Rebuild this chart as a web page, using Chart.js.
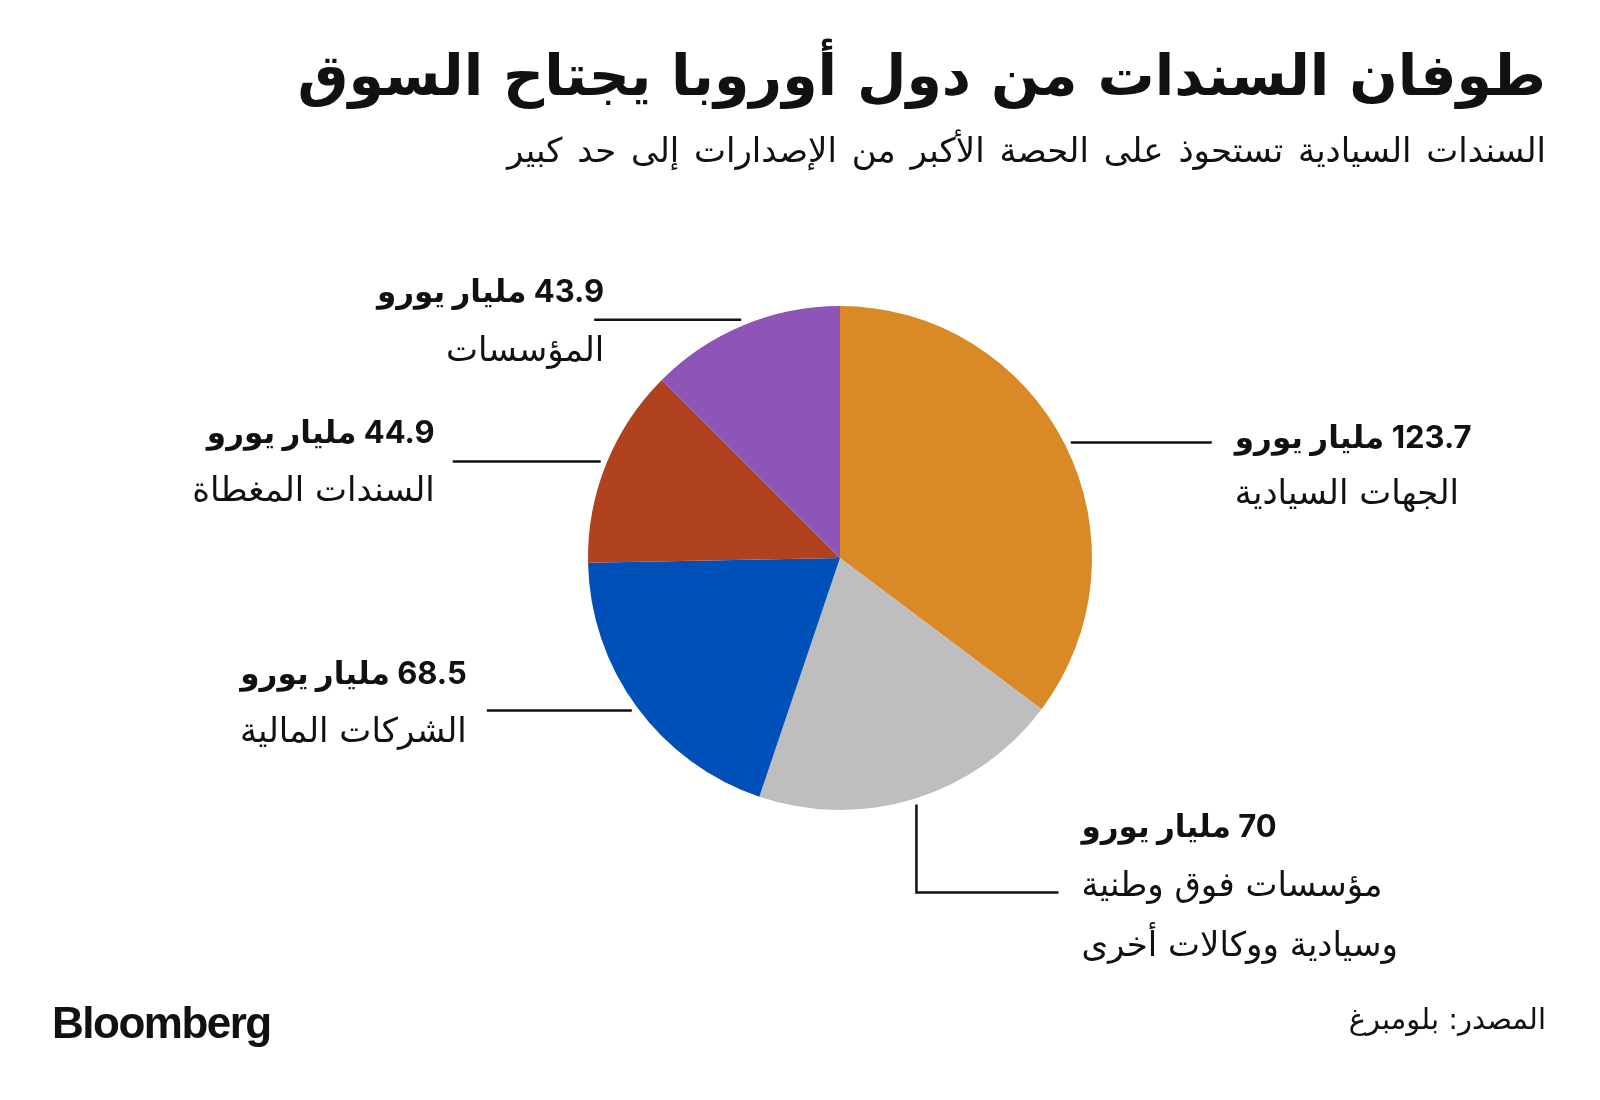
<!DOCTYPE html>
<html lang="ar">
<head>
<meta charset="utf-8">
<title>طوفان السندات من دول أوروبا يجتاح السوق</title>
<script src="https://cdn.jsdelivr.net/npm/chart.js@4/dist/chart.umd.min.js"></script>
<style>
  body { margin: 0; background: #fff; }
  #wrap { position: relative; width: 1600px; height: 1100px; overflow: hidden; background: #fff; }
  #myChart { position: absolute; left: 0; top: 0; }
  .txt { position: absolute; white-space: nowrap; color: #111; line-height: 1; }
  #title { right: 54px; top: 42px; font: bold 57px "DejaVu Sans", sans-serif; direction: rtl; }
  #subtitle { right: 54px; top: 130px; font: 34px "DejaVu Sans", sans-serif; word-spacing: 4px; direction: rtl; }
  #logo { left: 52px; top: 998px; font: bold 44px "Liberation Sans", Arial, sans-serif; letter-spacing: -1.5px; }
  #source { right: 54px; top: 1002px; font: 29px "DejaVu Sans", sans-serif; direction: rtl; }
</style>
</head>
<body>
<div id="wrap">
  <canvas id="myChart" width="1600" height="1100"></canvas>
  <div class="txt" id="title">طوفان السندات من دول أوروبا يجتاح السوق</div>
  <div class="txt" id="subtitle">السندات السيادية تستحوذ على الحصة الأكبر من الإصدارات إلى حد كبير</div>
  <div class="txt" id="logo">Bloomberg</div>
  <div class="txt" id="source">المصدر: بلومبرغ</div>
</div>
<script>
// data, clockwise from 12 o'clock
const categories = ['الجهات السيادية', 'مؤسسات فوق وطنية وسيادية ووكالات أخرى', 'الشركات المالية', 'السندات المغطاة', 'المؤسسات'];
const categoryLines = [
    ['الجهات السيادية'],
    ['مؤسسات فوق وطنية', 'وسيادية ووكالات أخرى'],
    ['الشركات المالية'],
    ['السندات المغطاة'],
    ['المؤسسات']
];
const values = [123.7, 70, 68.5, 44.9, 43.9];
const unit = 'مليار يورو';
const colors = ['#D98A26', '#BEBEBE', '#0050BA', '#B0421F', '#8E54B8'];

// leader line path (relative steps from the slice edge) and text offsets from line end
const leaderLayout = [
    { path: [[141, 0]], align: 'left', tx: 23, dy: [-4, 53] },
    { path: [[0, 88], [142, 0]], align: 'left', tx: 23, dy: [-65, -5, 55] },
    { path: [[-145, 0]], align: 'right', tx: -20, dy: [-36, 23] },
    { path: [[-148, 0]], align: 'right', tx: -18, dy: [-28, 31] },
    { path: [[-147, 0]], align: 'right', tx: 10, dy: [-27, 33] }
];

const sliceLabels = {
    id: 'sliceLabels',
    afterDatasetsDraw(chart) {
        const ctx = chart.ctx;
        const arcs = chart.getDatasetMeta(0).data;
        arcs.forEach((arc, i) => {
            const p = arc.getProps(['x', 'y', 'startAngle', 'endAngle', 'outerRadius']);
            const mid = (p.startAngle + p.endAngle) / 2;
            let x = p.x + Math.cos(mid) * (p.outerRadius + 6);
            let y = p.y + Math.sin(mid) * (p.outerRadius + 6);
            const lay = leaderLayout[i];

            ctx.save();
            ctx.strokeStyle = '#111';
            ctx.lineWidth = 2.5;
            ctx.beginPath();
            ctx.moveTo(x, y);
            lay.path.forEach(([dx, dy]) => {
                x += dx;
                y += dy;
                ctx.lineTo(x, y);
            });
            ctx.stroke();

            const lines = [values[i] + ' ' + unit].concat(categoryLines[i]);
            ctx.fillStyle = '#111';
            ctx.direction = 'rtl';
            ctx.textAlign = lay.align;
            ctx.textBaseline = 'middle';
            lines.forEach((t, k) => {
                ctx.font = k === 0 ? 'bold 31px Inter, "DejaVu Sans", sans-serif' : '34px "DejaVu Sans", sans-serif';
                ctx.fillText(t, x + lay.tx, y + lay.dy[k]);
            });
            ctx.restore();
        });
    }
};

const ctx = document.getElementById('myChart').getContext('2d');
new Chart(ctx, {
    type: 'pie',
    data: {
        labels: categories,
        datasets: [{
            data: values,
            backgroundColor: colors,
            borderWidth: 0
        }]
    },
    options: {
        responsive: false,
        animation: false,
        layout: { padding: { left: 588, right: 508, top: 306, bottom: 290 } },
        plugins: {
            legend: { display: false },
            tooltip: { enabled: false }
        }
    },
    plugins: [sliceLabels]
});
</script>
</body>
</html>
